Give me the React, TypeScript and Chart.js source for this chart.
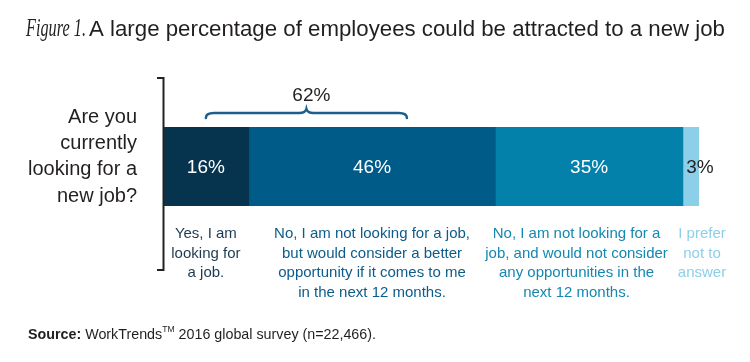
import React, { useEffect, useRef } from "react";
import { Chart, registerables } from "chart.js";

Chart.register(...registerables);

// ---- data ----
const question = "Are you currently looking for a new job?";
const questionLines = ["Are you", "currently", "looking for a", "new job?"];
const segmentNames = [
  "Yes, I am looking for a job.",
  "No, I am not looking for a job, but would consider a better opportunity if it comes to me in the next 12 months.",
  "No, I am not looking for a job, and would not consider any opportunities in the next 12 months.",
  "I prefer not to answer",
];
const segmentLines = [
  ["Yes, I am", "looking for", "a job."],
  ["No, I am not looking for a job,", "but would consider a better", "opportunity if it comes to me", "in the next 12 months."],
  ["No, I am not looking for a", "job, and would not consider", "any opportunities in the", "next 12 months."],
  ["I prefer", "not to", "answer"],
];
const values = [16, 46, 35, 3];
const valueLabels = ["16%", "46%", "35%", "3%"];
const combinedLabel = "62%";
const titleFigure = "Figure 1.";
const titleText = "A large percentage of employees could be attracted to a new job";
const sourceBold = "Source:";
const sourceBrand = " WorkTrends";
const sourceMark = "TM";
const sourceRest = " 2016 global survey (n=22,466).";

// ---- styles ----
const barColors = ["#06344f", "#005b88", "#0381aa", "#8bcfe8"];
const labelColors = ["#1b3a52", "#0c5c89", "#1488b0", "#8ccfe8"];
const valueColors = ["#ffffff", "#ffffff", "#ffffff", "#231f20"];
const SANS = "'Liberation Sans', Arial, Helvetica, sans-serif";
const SERIF = "'Liberation Serif', 'Times New Roman', serif";

function drawText(
  ctx: CanvasRenderingContext2D,
  s: string,
  x: number,
  y: number,
  font: string,
  color: string,
  align: "left" | "center" | "right" = "left",
  fitW?: number,
  scaleX?: number
): number {
  ctx.save();
  ctx.font = font;
  ctx.fillStyle = color;
  ctx.textBaseline = "alphabetic";
  ctx.textAlign = "left";
  const w = ctx.measureText(s).width;
  const sx = fitW ? fitW / w : scaleX ?? 1;
  const ww = w * sx;
  const x0 = align === "left" ? x : align === "center" ? x - ww / 2 : x - ww;
  ctx.translate(x0, y);
  ctx.scale(sx, 1);
  ctx.fillText(s, 0, 0);
  ctx.restore();
  return ww;
}

function measure(ctx: CanvasRenderingContext2D, s: string, font: string) {
  ctx.save();
  ctx.font = font;
  const w = ctx.measureText(s).width;
  ctx.restore();
  return w;
}

const decorPlugin = {
  id: "decor",
  afterDraw(chart: any) {
    const ctx: CanvasRenderingContext2D = chart.ctx;
    const xs = chart.scales.x;
    const area = chart.chartArea;
    const dark = "#231f20";

    // title
    drawText(ctx, titleFigure, 26, 36, `italic 26px ${SERIF}`, dark, "left", 60);
    drawText(ctx, titleText, 89, 36, `22px ${SANS}`, dark, "left", 636);

    // question
    const qBase = [123, 149, 175, 202];
    questionLines.forEach((l, i) => drawText(ctx, l, 137, qBase[i], `20px ${SANS}`, dark, "right"));

    // bracket axis
    ctx.save();
    ctx.strokeStyle = "#222222";
    ctx.lineWidth = 2;
    ctx.beginPath();
    ctx.moveTo(157, 78);
    ctx.lineTo(163.5, 78);
    ctx.lineTo(163.5, 270);
    ctx.lineTo(157, 270);
    ctx.stroke();
    ctx.restore();

    // value labels
    const midY = (area.top + area.bottom) / 2;
    const bounds: [number, number][] = [];
    let cum = 0;
    values.forEach((v) => {
      bounds.push([xs.getPixelForValue(cum), xs.getPixelForValue(cum + v)]);
      cum += v;
    });
    values.forEach((_, i) => {
      const [x0, x1] = bounds[i];
      const cx = i === values.length - 1 ? x1 + 1 : (x0 + x1) / 2;
      drawText(ctx, valueLabels[i], cx, midY + 6.5, `19px ${SANS}`, valueColors[i], "center");
    });

    // category labels, placed right-to-left so they never overlap
    const lblFont = `15px ${SANS}`;
    let leftLimit = Infinity;
    for (let i = values.length - 1; i >= 0; i--) {
      const [x0, x1] = bounds[i];
      const w = Math.max(...segmentLines[i].map((l) => measure(ctx, l, lblFont)));
      let cx = i === values.length - 1 ? x1 + 3 : (x0 + x1) / 2;
      cx = Math.min(cx, leftLimit - 10 - w / 2);
      leftLimit = cx - w / 2;
      segmentLines[i].forEach((l, j) =>
        drawText(ctx, l, cx, 238 + j * 19.6, lblFont, labelColors[i], "center")
      );
    }

    // brace over the first two segments
    const bx0 = xs.getPixelForValue(8);
    const bx1 = xs.getPixelForValue(45.5);
    const bm = (bx0 + bx1) / 2;
    ctx.save();
    ctx.strokeStyle = "#1d5f8c";
    ctx.lineWidth = 2.5;
    ctx.lineCap = "round";
    ctx.beginPath();
    ctx.moveTo(bx0, 118);
    ctx.quadraticCurveTo(bx0, 113, bx0 + 8, 113);
    ctx.lineTo(bm - 7, 113);
    ctx.quadraticCurveTo(bm - 1, 113, bm, 109);
    ctx.quadraticCurveTo(bm + 1, 113, bm + 7, 113);
    ctx.lineTo(bx1 - 8, 113);
    ctx.quadraticCurveTo(bx1, 113, bx1, 118);
    ctx.stroke();
    ctx.restore();
    drawText(ctx, combinedLabel, bm + 5, 101, `19px ${SANS}`, dark, "center");

    // source line, uniformly fitted between x=28 and x=376
    const fB = `bold 15px ${SANS}`;
    const fR = `15px ${SANS}`;
    const fM = `9px ${SANS}`;
    const total =
      measure(ctx, sourceBold, fB) + measure(ctx, sourceBrand, fR) + measure(ctx, sourceMark, fM) + measure(ctx, sourceRest, fR);
    const sc = 348 / total;
    let sx = 28;
    sx += drawText(ctx, sourceBold, sx, 339, fB, dark, "left", undefined, sc);
    sx += drawText(ctx, sourceBrand, sx, 339, fR, dark, "left", undefined, sc);
    sx += drawText(ctx, sourceMark, sx, 332, fM, dark, "left", undefined, sc);
    drawText(ctx, sourceRest, sx, 339, fR, dark, "left", undefined, sc);
  },
};

export default function App() {
  const ref = useRef<HTMLCanvasElement | null>(null);
  useEffect(() => {
    if (!ref.current) return;
    const chart = new Chart(ref.current, {
      type: "bar",
      data: {
        labels: [question],
        datasets: values.map((v, i) => ({
          label: segmentNames[i],
          data: [v],
          backgroundColor: barColors[i],
          borderWidth: 0,
          barPercentage: 1,
          categoryPercentage: 1,
          stack: "s",
        })),
      },
      options: {
        indexAxis: "y",
        responsive: false,
        animation: false,
        devicePixelRatio: 1,
        layout: { padding: { left: 163, right: 51, top: 127, bottom: 156 } },
        scales: {
          x: { stacked: true, min: 0, max: 100, display: false },
          y: { stacked: true, display: false },
        },
        plugins: {
          legend: { display: false },
          tooltip: { enabled: false },
        },
      },
      plugins: [decorPlugin],
    });
    return () => chart.destroy();
  }, []);
  return (
    <div style={{ position: "absolute", left: 0, top: 0, width: 750, height: 362, background: "#ffffff" }}>
      <canvas ref={ref} width={750} height={362} style={{ display: "block" }} />
    </div>
  );
}
